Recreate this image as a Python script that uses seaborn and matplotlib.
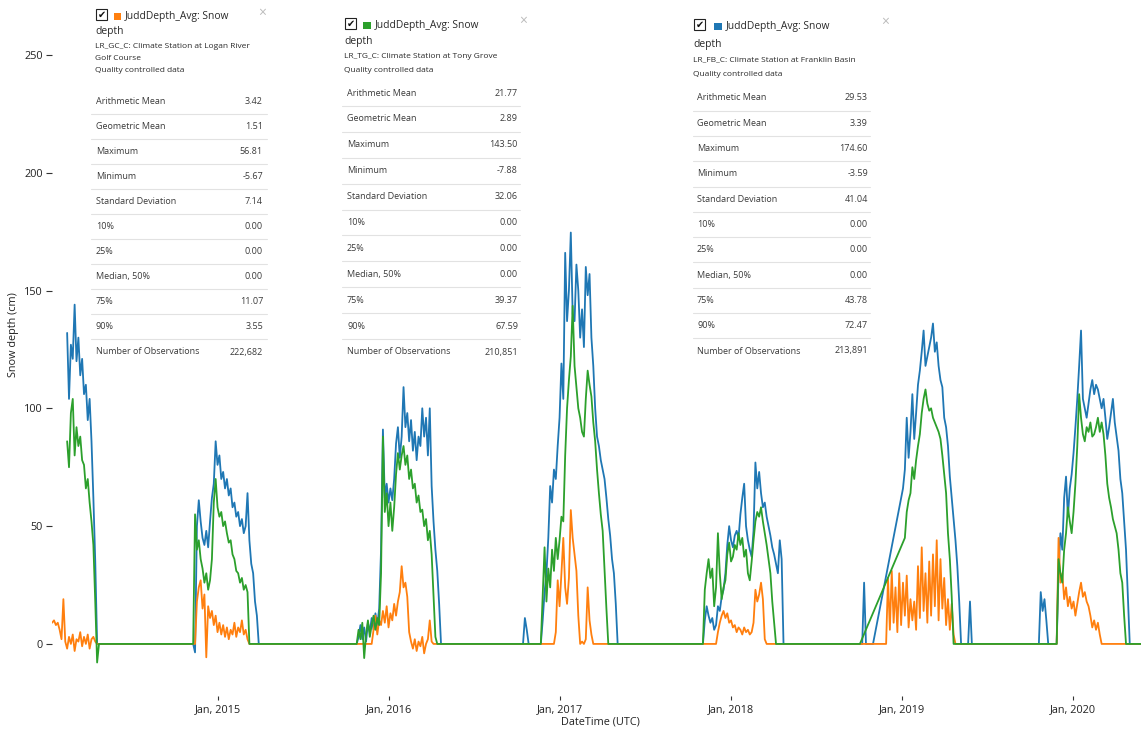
import numpy as np
import pandas as pd
import matplotlib
matplotlib.use("Agg")
import matplotlib.pyplot as plt
import matplotlib.dates as mdates
from matplotlib.patches import Rectangle
from matplotlib.lines import Line2D
import seaborn as sns

# Snow depth (cm), one reading every STEP_DAYS days from each start date.
STEP_DAYS = 4

# ---- LR_FB_C: Franklin Basin ----
fb_2014_start = "2014-02-14"
fb_2014 = [132, 104, 127, 121, 144, 120, 130, 114, 121, 106, 110, 95, 104, 86, 62, 35, 0]
fb_2015_start = "2014-11-10"
fb_2015 = [0, -3.59, 50, 61, 52, 45, 42, 48, 41, 52, 62, 68, 86, 76, 80, 70, 73, 66, 70, 63, 66,
           58, 60, 54, 56, 50, 53, 47, 50, 64, 44, 34, 30, 18, 12, 0]
fb_2016_start = "2015-10-25"
fb_2016 = [0, 3, 8, 2, 7, 1, 9, 5, 11, 6, 13, 8, 15, 40, 91, 62, 68, 60, 66, 61, 70, 85, 92, 79,
           88, 109, 92, 98, 86, 95, 82, 90, 78, 88, 84, 100, 88, 96, 80, 100, 67, 52, 40, 31, 17, 0]
fb_2016b_start = "2016-10-14"
fb_2016b = [0, 11, 6, 0]
fb_2017_start = "2016-11-21"
fb_2017 = [0, 10, 22, 30, 45, 67, 60, 74, 70, 84, 96, 119, 104, 166, 137, 150, 174.6, 140, 137,
           161, 150, 130, 142, 126, 160, 148, 157, 130, 118, 100, 88, 84, 78, 74, 70, 62, 53, 46,
           36, 30, 17, 0]
fb_2018_start = "2017-11-02"
fb_2018 = [0, 10, 16, 12, 9, 11, 6, 8, 16, 14, 20, 23, 30, 42, 50, 44, 41, 46, 48, 45, 55, 62, 68,
           50, 44, 40, 37, 48, 77, 66, 73, 64, 58, 60, 54, 50, 46, 41, 38, 34, 30, 44, 36, 0]
fb_2018b_start = "2018-10-08"
fb_2018b = [0, 26, 0]
fb_2018c_start = "2018-10-31"
fb_2018c = [0]
fb_2019_start = "2019-01-03"
fb_2019 = [66, 74, 96, 79, 90, 106, 87, 98, 110, 116, 124, 133, 118, 122, 126, 130, 136, 124, 128,
           118, 112, 109, 96, 92, 84, 71, 62, 53, 44, 33, 18, 0]
fb_2019b_start = "2019-05-22"
fb_2019b = [0, 18, 0]
fb_2019c_start = "2019-10-20"
fb_2019c = [0, 22, 14, 19, 10, 0]
fb_2020_start = "2019-11-27"
fb_2020 = [0, 30, 47, 40, 62, 71, 54, 66, 72, 81, 92, 104, 118, 133, 104, 100, 96, 102, 108, 112,
           106, 110, 108, 104, 100, 104, 96, 87, 92, 98, 104, 94, 88, 82, 70, 64, 52, 40, 20, 0]

# ---- LR_TG_C: Tony Grove ----
tg_2014_start = "2014-02-14"
tg_2014 = [86, 75, 98, 104, 80, 92, 84, 88, 78, 76, 66, 70, 60, 52, 42, 18, -7.88, 0]
tg_2015_start = "2014-11-10"
tg_2015 = [0, 55, 40, 44, 36, 32, 26, 30, 23, 27, 36, 60, 70, 58, 54, 56, 50, 52, 47, 43, 44, 38,
           36, 31, 30, 26, 28, 23, 25, 22, 0]
tg_2016_start = "2015-10-25"
tg_2016 = [0, 6, 2, 9, -6, 4, 10, 3, 8, 12, 6, 11, 8, 30, 88, 56, 64, 50, 60, 48, 58, 72, 81, 74,
           80, 84, 76, 80, 70, 74, 66, 68, 60, 63, 56, 57, 50, 53, 44, 48, 38, 20, 3, 0]
tg_2017_start = "2016-11-21"
tg_2017 = [0, 20, 41, 18, 32, 24, 40, 31, 45, 36, 44, 54, 52, 80, 100, 112, 122, 143.5, 118, 109,
           100, 96, 90, 88, 104, 116, 110, 105, 94, 86, 74, 64, 55, 48, 31, 15, 0]
tg_2018_start = "2017-11-02"
tg_2018 = [0, 23, 30, 36, 28, 32, 16, 24, 47, 30, 19, 24, 27, 38, 43, 35, 37, 42, 40, 47, 42, 45,
           37, 40, 30, 27, 35, 44, 52, 56, 54, 58, 52, 47, 42, 36, 30, 18, 9, 0]
tg_2018b_start = "2018-10-03"
tg_2018b = [0]
tg_2019_start = "2019-01-07"
tg_2019 = [45, 56, 61, 64, 75, 70, 78, 84, 89, 98, 104, 108, 102, 99, 100, 96, 94, 92, 90, 87, 80,
           72, 64, 47, 36, 20, 0]
tg_2020_start = "2019-11-27"
tg_2020 = [0, 36, 30, 26, 40, 47, 58, 52, 47, 56, 68, 84, 106, 96, 89, 86, 92, 90, 94, 88, 89, 92,
           96, 90, 94, 89, 80, 68, 62, 58, 53, 50, 47, 40, 30, 26, 12, 0]

# ---- LR_GC_C: Logan River Golf Course ----
gc_2014_start = "2014-01-13"
gc_2014 = [9, 10, 8, 9, 6, 2, 19, 1, -2, 3, 0, 4, -3, 2, 1, 5, -1, 3, 0, 4, -2, 2, 3, 1, 0]
gc_2015_start = "2014-11-14"
gc_2015 = [0, 18, 24, 27, 15, 21, -5.67, 16, 11, 14, 8, 12, 5, 9, 4, 8, 3, 7, 2, 6, 4, 9, 3, 7, 5,
           10, 4, 6, 2, 0]
gc_2016_start = "2015-11-26"
gc_2016 = [0, 6, 12, 4, 10, 8, 14, 9, 16, 7, 13, 10, 17, 12, 18, 22, 33, 24, 26, 20, 5, 1, -2, 2,
           -3, 1, -1, 3, -4, 0, 2, 10, 1, 0]
gc_2017_start = "2016-12-19"
gc_2017 = [0, 5, 27, 16, 30, 45, 24, 17, 28, 56.81, 45, 38, 31, 12, 0, 1, 0, 2, 24, 10, 4, 0]
gc_2018_start = "2017-11-30"
gc_2018 = [0, 5, 9, 12, 14, 11, 13, 9, 10, 7, 8, 5, 7, 6, 4, 7, 5, 6, 4, 5, 9, 23, 18, 21, 26, 19,
           2, 0]
gc_2019_start = "2018-11-28"
gc_2019 = [0, 28, 6, 31, 9, 24, 5, 30, 8, 26, 12, 29, 7, 19, 10, 18, 6, 33, 11, 41, 14, 30, 9, 35,
           12, 38, 16, 44, 10, 36, 15, 28, 8, 19, 6, 17, 4, 0]
gc_2020_start = "2019-11-27"
gc_2020 = [0, 45, 26, 30, 19, 24, 16, 20, 15, 18, 12, 17, 22, 26, 20, 22, 18, 16, 12, 7, 10, 6, 9,
           4, 0]

record_end = "2020-06-01"

# ---- summary statistics shown in the legend cards ----
stat_labels = ["Arithmetic Mean", "Geometric Mean", "Maximum", "Minimum", "Standard Deviation",
               "10%", "25%", "Median, 50%", "75%", "90%"]
gc_stats = [3.42, 1.51, 56.81, -5.67, 7.14, 0.00, 0.00, 0.00, 11.07, 3.55]
tg_stats = [21.77, 2.89, 143.50, -7.88, 32.06, 0.00, 0.00, 0.00, 39.37, 67.59]
fb_stats = [29.53, 3.39, 174.60, -3.59, 41.04, 0.00, 0.00, 0.00, 43.78, 72.47]
gc_count, tg_count, fb_count = 222682, 210851, 213891

variable_name = "JuddDepth_Avg: Snow"
gc_site = ["LR_GC_C: Climate Station at Logan River", "Golf Course", "Quality controlled data"]
tg_site = ["LR_TG_C: Climate Station at Tony Grove", "Quality controlled data"]
fb_site = ["LR_FB_C: Climate Station at Franklin Basin", "Quality controlled data"]

COLORS = {"FB": "#1f77b4", "GC": "#ff7f0e", "TG": "#2ca02c"}


def build(parts, station):
    frames = []
    for start, vals in parts:
        dates = pd.Timestamp(start) + pd.to_timedelta(np.arange(len(vals)) * STEP_DAYS, unit="D")
        frames.append(pd.DataFrame({"date": dates, "depth": vals}))
    frames.append(pd.DataFrame({"date": [pd.Timestamp(record_end)], "depth": [0.0]}))
    out = pd.concat(frames, ignore_index=True)
    out["station"] = station
    return out


fb = build([(fb_2014_start, fb_2014), (fb_2015_start, fb_2015), (fb_2016_start, fb_2016),
            (fb_2016b_start, fb_2016b), (fb_2017_start, fb_2017), (fb_2018_start, fb_2018),
            (fb_2018b_start, fb_2018b), (fb_2018c_start, fb_2018c), (fb_2019_start, fb_2019),
            (fb_2019b_start, fb_2019b), (fb_2019c_start, fb_2019c), (fb_2020_start, fb_2020)], "FB")
tg = build([(tg_2014_start, tg_2014), (tg_2015_start, tg_2015), (tg_2016_start, tg_2016),
            (tg_2017_start, tg_2017), (tg_2018_start, tg_2018), (tg_2018b_start, tg_2018b),
            (tg_2019_start, tg_2019), (tg_2020_start, tg_2020)], "TG")
gc = build([(gc_2014_start, gc_2014), (gc_2015_start, gc_2015), (gc_2016_start, gc_2016),
            (gc_2017_start, gc_2017), (gc_2018_start, gc_2018), (gc_2019_start, gc_2019),
            (gc_2020_start, gc_2020)], "GC")
df = pd.concat([fb, gc, tg], ignore_index=True)

sns.set_theme(style="ticks")
plt.rcParams["font.family"] = ["Open Sans", "DejaVu Sans"]

W, H = 1141, 732
fig = plt.figure(figsize=(W / 100, H / 100), dpi=100)
fig.patch.set_facecolor("white")
ax = fig.add_axes([52 / W, 36 / H, (W - 52) / W, 696 / H])

sns.lineplot(data=df, x="date", y="depth", hue="station", hue_order=["FB", "GC", "TG"],
             palette=COLORS, estimator=None, sort=False, errorbar=None, legend=False,
             linewidth=1.3, ax=ax)

origin = pd.Timestamp("2015-01-01")
ax.set_xlim(origin - pd.Timedelta(days=353.3), origin + pd.Timedelta(days=1971))
ax.set_ylim(-22.1, 273.3)
ax.set_yticks([0, 50, 100, 150, 200, 250])
ax.xaxis.set_major_locator(mdates.YearLocator())
ax.xaxis.set_major_formatter(mdates.DateFormatter("%b, %Y"))
sns.despine(ax=ax, left=True, bottom=True)
ax.tick_params(axis="y", length=4.5, width=0.8, color="#333333", pad=2, labelsize=7.8,
               labelcolor="#222222")
ax.tick_params(axis="x", length=3, width=0.8, color="#333333", pad=2.5, labelsize=7.8,
               labelcolor="#222222")
ax.set_xlabel("DateTime (UTC)", fontsize=7.8, color="#222222")
ax.set_ylabel("Snow depth (cm)", fontsize=7.8, color="#222222")
ax.xaxis.set_label_coords((600 - 52) / (W - 52), -(716 - 696) / 696)
ax.yaxis.set_label_coords((19 - 52) / (W - 52), (696 - 335) / 696)
ax.set_facecolor("white")


def fx(x):
    return x / W


def fy(y):
    return 1 - y / H


def card(color, site_lines, stats, count, check, swatch, title_y, close, depth_y, sub_y,
         row_y0, row_dy, x0, x1, label_x, value_x):
    cx, cy = check
    fig.add_artist(Rectangle((fx(cx), fy(cy + 11)), 11 / W, 11 / H, transform=fig.transFigure,
                             facecolor="white", edgecolor="#222222", linewidth=0.8))
    fig.text(fx(cx + 5.5), fy(cy + 5.8), "\u2714", ha="center", va="center", fontsize=7,
             color="#111111", family="DejaVu Sans")
    sx, sy = swatch
    fig.add_artist(Rectangle((fx(sx), fy(sy + 7.5)), 7.5 / W, 7.5 / H, transform=fig.transFigure,
                             facecolor=color, edgecolor="none"))
    fig.text(fx(sx + 11.5), fy(title_y), variable_name, ha="left", va="center", fontsize=7.4,
             color="#2a2a2a")
    fig.text(fx(close[0]), fy(close[1]), "\u00d7", ha="center", va="center", fontsize=10,
             color="#bbbbbb")
    fig.text(fx(cx - 1), fy(depth_y), "depth", ha="left", va="center", fontsize=7.4,
             color="#2a2a2a")
    for txt, yy in zip(site_lines, sub_y):
        fig.text(fx(cx - 1), fy(yy), txt, ha="left", va="center", fontsize=6.0, color="#2a2a2a")
    labels = stat_labels + ["Number of Observations"]
    values = [f"{v:.2f}" for v in stats] + [f"{count:,}"]
    for k, (lab, val) in enumerate(zip(labels, values)):
        yy = row_y0 + k * row_dy
        fig.text(fx(label_x), fy(yy), lab, ha="left", va="center", fontsize=6.5, color="#3a3a3a")
        fig.text(fx(value_x), fy(yy), val, ha="right", va="center", fontsize=6.5, color="#3a3a3a")
        if k < len(labels) - 1:
            ly = yy + row_dy / 2
            fig.add_artist(Line2D([fx(x0), fx(x1)], [fy(ly), fy(ly)], transform=fig.transFigure,
                                  color="#e2e2e2", linewidth=0.8))


card(COLORS["GC"], gc_site, gc_stats, gc_count, check=(96, 9), swatch=(113.5, 12.5),
     title_y=16, close=(262, 13), depth_y=31.5, sub_y=[46, 58.5, 71], row_y0=101, row_dy=25.1,
     x0=91, x1=267, label_x=96, value_x=263)
card(COLORS["TG"], tg_site, tg_stats, tg_count, check=(345, 18), swatch=(363, 21.5),
     title_y=25.5, close=(523, 21), depth_y=41.5, sub_y=[57, 70], row_y0=93, row_dy=25.9,
     x0=342, x1=520, label_x=347, value_x=518)
card(COLORS["FB"], fb_site, fb_stats, fb_count, check=(694, 19), swatch=(714, 22.5),
     title_y=27, close=(885, 22), depth_y=45, sub_y=[60, 74], row_y0=98, row_dy=25.3,
     x0=693, x1=870, label_x=697, value_x=868)

fig.savefig("out.png", dpi=100, facecolor="white")
